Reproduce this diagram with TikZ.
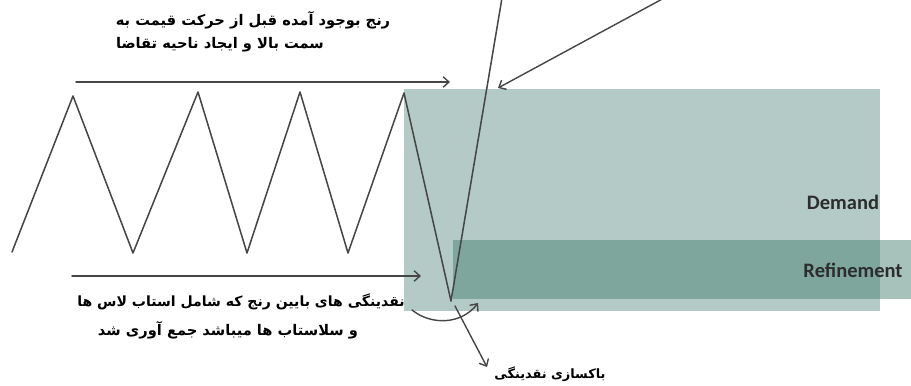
\documentclass[tikz,border=0pt]{standalone}
\usepackage{fontspec}
\setsansfont{Carlito}
\newfontfamily\farsi[Script=Arabic]{DejaVu Sans}
\TeXXeTstate=1
\usetikzlibrary{arrows.meta}
\definecolor{zonelight}{RGB}{179,202,198}
\definecolor{zonedark}{RGB}{70,128,113}
\definecolor{linegray}{RGB}{70,70,70}
\definecolor{labelgray}{RGB}{45,45,45}
\tikzset{
  pricepath/.style={line width=1.3pt,draw=linegray},
  pointer/.style={line width=1.2pt,draw=linegray,-{Straight Barb[length=5pt,width=9pt]}},
  fanote/.style={font=\farsi\bfseries\fontsize{12.5}{15}\selectfont,inner sep=0pt},
  zonelabel/.style={font=\sffamily\bfseries\fontsize{17.5}{20}\selectfont,text=labelgray,inner sep=0pt}
}

\begin{document}
\begin{tikzpicture}[x=0.03cm,y=-0.03cm,line cap=round,line join=round]
  \clip (0,0) rectangle (911,385);
  % زون تقاضا و ریفاینمنت
  \fill[zonelight] (404,89) rectangle (880,311);
  \fill[zonedark,fill opacity=0.48] (453,240) rectangle (911,299);
  \node[zonelabel] (demand) at (843,202) {Demand};
  \node[zonelabel] (refine) at (853,270) {Refinement};
  % حرکت رنج قیمت
  \coordinate (s0) at (12,252);
  \coordinate (p1) at (73,96);   \coordinate (v1) at (133,253);
  \coordinate (p2) at (198,92);  \coordinate (v2) at (247,253);
  \coordinate (p3) at (300,92);  \coordinate (v3) at (348,253);
  \coordinate (p4) at (404,93);  \coordinate (sweep) at (451,301);
  \coordinate (exit) at (502,-2);
  \draw[pricepath] (s0) -- (p1) -- (v1) -- (p2) -- (v2) -- (p3) -- (v3) -- (p4) -- (sweep) -- (exit);
  % فلش‌ها
  \coordinate (topL) at (76,82);   \coordinate (topR) at (450,82);
  \coordinate (botL) at (72,276);  \coordinate (botR) at (421,276);
  \coordinate (diagS) at (666,-3); \coordinate (diagE) at (498,88);
  \coordinate (downS) at (455,306); \coordinate (downE) at (487,367);
  \coordinate (curveS) at (412,310); \coordinate (curveE) at (478,303);
  \draw[pointer] (topL) -- (topR);
  \draw[pointer] (botL) -- (botR);
  \draw[pointer] (diagS) -- (diagE);
  \draw[pointer] (downS) -- (downE);
  \draw[pointer] (curveS) .. controls (432,326) and (462,324) .. (curveE);
  % توضیحات
  \node[fanote] (rangeA) at (253,20) {\beginR رنج بوجود آمده قبل از حرکت قیمت به\endR};
  \node[fanote] (rangeB) at (220,45) {\beginR سمت بالا و ایجاد ناحیه تقاضا\endR};
  \node[fanote,font=\farsi\bfseries\fontsize{12}{15}\selectfont] (liqA) at (241,302) {\beginR نقدینگی های بایین رنج که شامل استاب لاس ها\endR};
  \node[fanote] (liqB) at (228,330) {\beginR و سلاستاب ها میباشد جمع آوری شد\endR};
  \node[fanote,font=\farsi\bfseries\fontsize{11}{14}\selectfont] (clean) at (550,374) {\beginR باکسازی نقدینگی\endR};
\end{tikzpicture}
\end{document}
